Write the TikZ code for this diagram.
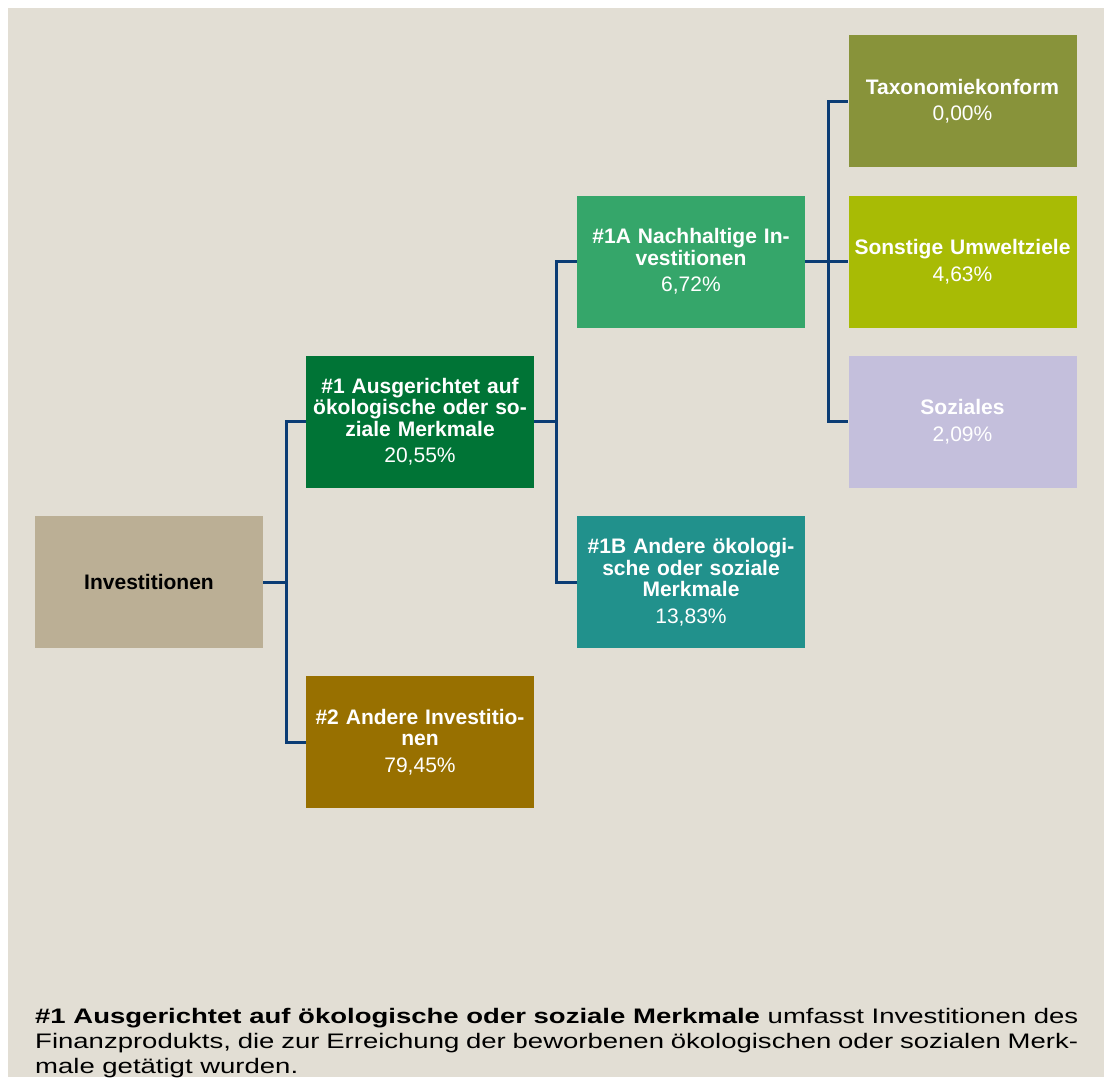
\documentclass[tikz,border=0pt]{standalone}
\usepackage{fontspec}
\setmainfont{Liberation Sans}
\newfontfamily\widefont[FakeStretch=1.31]{Liberation Sans}
\definecolor{bgbeige}{HTML}{E2DED4}
\definecolor{linenavy}{HTML}{0B3C74}
\definecolor{cinv}{HTML}{BBAF95}
\definecolor{cone}{HTML}{007436}
\definecolor{ctwo}{HTML}{987000}
\definecolor{coneA}{HTML}{35A66A}
\definecolor{coneB}{HTML}{21918C}
\definecolor{ctax}{HTML}{88933A}
\definecolor{cson}{HTML}{A8BB05}
\definecolor{csoz}{HTML}{C4BFDC}
\tikzset{
  boxnode/.style={rectangle, inner sep=0pt, minimum width=228pt, minimum height=132pt,
    text width=226pt, align=center, text=white,
    font=\bfseries\fontsize{21}{21.5}\selectfont},
  conn/.style={draw=linenavy, line width=3pt, line join=miter},
  footline/.style={anchor=base west, inner sep=0pt, font=\widefont\fontsize{21}{25}\selectfont}
}
\newcommand{\pct}[1]{\\[5pt]{\mdseries #1}}
\begin{document}
\begin{tikzpicture}[x=1pt,y=-1pt]
\useasboundingbox (0,0) rectangle (1108,1077);
\fill[white] (0,0) rectangle (1108,1077);
\fill[bgbeige] (8,8) rectangle (1104,1077);

\node[boxnode, fill=cinv, text=black] (inv) at (149,582) {Investitionen};
\node[boxnode, fill=cone] (n1) at (420,421.5) {\#1 Ausgerichtet auf\\ökologische oder so-\\ziale Merkmale\pct{20,55\%}};
\node[boxnode, fill=ctwo] (n2) at (420,742) {\#2 Andere Investitio-\\nen\pct{79,45\%}};
\node[boxnode, fill=coneA] (n1a) at (691,261.5) {\#1A Nachhaltige In-\\vestitionen\pct{6,72\%}};
\node[boxnode, fill=coneB] (n1b) at (691,582) {\#1B Andere ökologi-\\sche oder soziale\\Merkmale\pct{13,83\%}};
\node[boxnode, fill=ctax] (tax) at (962.5,101) {Taxonomiekonform\pct{0,00\%}};
\node[boxnode, fill=cson] (son) at (962.5,261.5) {Sonstige Umweltziele\pct{4,63\%}};
\node[boxnode, fill=csoz] (soz) at (962.5,421.5) {Soziales\pct{2,09\%}};

\coordinate (j1) at (286,582);
\coordinate (j2) at (556,421.5);
\coordinate (j3) at (828,261.5);

\draw[conn] (inv.east) -- (j1);
\draw[conn] (j1) |- (n1.west);
\draw[conn] (j1) |- (n2.west);
\draw[conn] (n1.east) -- (j2);
\draw[conn] (j2) |- (n1a.west);
\draw[conn] (j2) |- (n1b.west);
\draw[conn] (n1a.east) -- (j3);
\draw[conn] (j3) |- (tax.west);
\draw[conn] (j3) |- (son.west);
\draw[conn] (j3) |- (soz.west);

\node[footline] (foot1) at (35,1023)
  {\hbox to 1043pt{\textbf{\#1 Ausgerichtet auf ökologische oder soziale Merkmale} umfasst Investitionen des}};
\node[footline] (foot2) at (35,1048)
  {\hbox to 1043pt{Finanzprodukts, die zur Erreichung der beworbenen ökologischen oder sozialen Merk-}};
\node[footline] (foot3) at (35,1073) {male getätigt wurden.};
\end{tikzpicture}
\end{document}
